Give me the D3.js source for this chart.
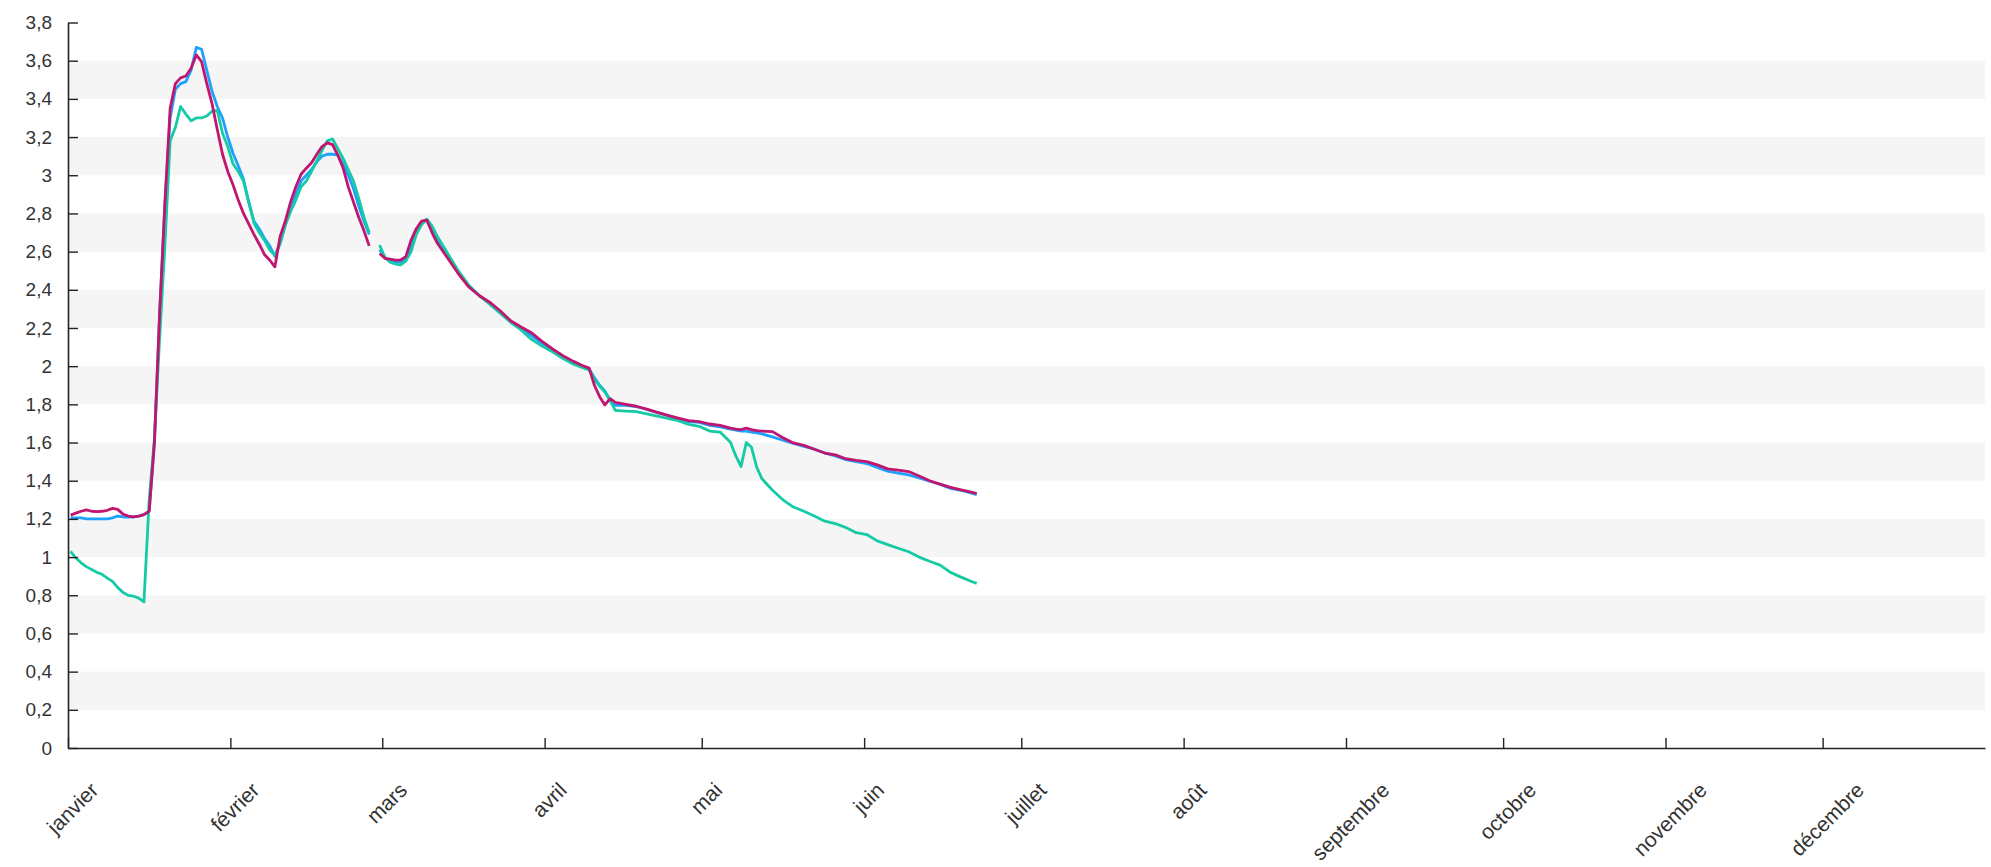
<!DOCTYPE html>
<html><head><meta charset="utf-8">
<script src="https://cdn.jsdelivr.net/npm/d3@7"></script>
<style>
html,body{margin:0;padding:0;background:#fff;}
svg{display:block;}
text{font-family:"Liberation Sans",Arial,sans-serif;}
</style>
</head><body>
<svg id="chart" width="1991" height="867"></svg>
<script>
// ---- data ----
const monthLabels = ["janvier","février","mars","avril","mai","juin","juillet","août","septembre","octobre","novembre","décembre"];
const yTicks = [0,0.2,0.4,0.6,0.8,1,1.2,1.4,1.6,1.8,2,2.2,2.4,2.6,2.8,3,3.2,3.4,3.6,3.8];
const yTickLabels = ["0","0,2","0,4","0,6","0,8","1","1,2","1,4","1,6","1,8","2","2,2","2,4","2,6","2,8","3","3,2","3,4","3,6","3,8"];
// day of year (0 = 1 janvier)
const days = [0,1,2,3,4,5,6,7,8,9,10,11,12,13,14,15,16,17,18,19,20,21,22,23,24,25,26,27,28,29,30,31,32,33,34,35,36,37,38,39,40,41,42,43,44,45,46,47,48,49,50,51,52,53,54,55,56,57,58,59,60,61,62,63,64,65,66,67,68,69,70,72,74,76,78,80,82,84,86,88,90,92,94,96,98,99,100,101,102,103,104,106,108,110,112,114,116,118,120,122,124,126,127,128,129,130,131,132,134,136,138,140,142,144,146,148,150,152,154,156,158,160,162,164,166,168,170,172,173];
const blueValues = [1.205,1.205,1.205,1.20,1.20,1.20,1.20,1.20,1.205,1.215,1.21,1.21,1.21,1.215,1.222,1.24,1.60,2.28,2.85,3.30,3.45,3.48,3.49,3.55,3.67,3.66,3.55,3.44,3.36,3.30,3.20,3.115,3.05,2.98,2.86,2.76,2.72,2.67,2.63,2.575,2.65,2.74,2.82,2.90,2.97,3.00,3.03,3.07,3.10,3.11,3.11,3.105,3.06,3.00,2.93,2.84,2.76,2.69,null,
2.61,2.57,2.55,2.545,2.545,2.56,2.63,2.70,2.75,2.768,2.72,2.66,2.58,2.495,2.42,2.37,2.33,2.285,2.235,2.198,2.16,2.12,2.083,2.048,2.017,1.995,1.985,1.94,1.90,1.87,1.82,1.795,1.795,1.788,1.773,1.757,1.742,1.725,1.71,1.705,1.69,1.682,1.67,1.665,1.66,1.66,1.655,1.65,1.645,1.63,1.612,1.595,1.58,1.565,1.545,1.53,1.51,1.50,1.49,1.47,1.45,1.44,1.43,1.415,1.397,1.38,1.36,1.35,1.335,1.327];
const tealValues = [1.03,0.995,0.97,0.95,0.935,0.92,0.91,0.89,0.873,0.84,0.815,0.80,0.795,0.785,0.765,1.30,1.62,2.15,2.63,3.18,3.25,3.36,3.32,3.285,3.30,3.30,3.31,3.335,3.34,3.22,3.15,3.06,3.02,2.97,2.86,2.75,2.70,2.66,2.61,2.58,2.64,2.74,2.81,2.87,2.94,2.97,3.02,3.075,3.13,3.18,3.19,3.14,3.09,3.03,2.97,2.88,2.78,2.70,null,
2.635,2.57,2.545,2.535,2.53,2.55,2.60,2.69,2.74,2.77,2.735,2.68,2.59,2.50,2.425,2.37,2.325,2.278,2.23,2.19,2.14,2.105,2.075,2.04,2.01,1.99,1.98,1.93,1.895,1.865,1.82,1.768,1.765,1.762,1.75,1.738,1.727,1.715,1.695,1.685,1.66,1.655,1.60,1.53,1.474,1.60,1.575,1.47,1.41,1.35,1.30,1.262,1.24,1.215,1.188,1.175,1.155,1.128,1.118,1.085,1.065,1.046,1.028,1.00,0.978,0.958,0.92,0.895,0.872,0.862];
const magentaValues = [1.22,1.23,1.24,1.247,1.24,1.238,1.24,1.245,1.255,1.25,1.225,1.215,1.21,1.215,1.222,1.24,1.60,2.28,2.85,3.35,3.48,3.51,3.52,3.56,3.63,3.595,3.48,3.375,3.24,3.11,3.02,2.95,2.87,2.80,2.745,2.69,2.64,2.585,2.556,2.52,2.68,2.76,2.86,2.94,3.005,3.037,3.065,3.11,3.15,3.17,3.16,3.106,3.04,2.94,2.86,2.78,2.71,2.63,null,
2.59,2.565,2.56,2.555,2.556,2.574,2.66,2.72,2.76,2.765,2.70,2.645,2.565,2.485,2.415,2.37,2.335,2.29,2.238,2.205,2.175,2.13,2.09,2.055,2.025,2.00,1.99,1.90,1.84,1.797,1.83,1.81,1.80,1.79,1.775,1.758,1.742,1.728,1.715,1.71,1.697,1.69,1.675,1.67,1.668,1.675,1.668,1.662,1.66,1.657,1.625,1.598,1.585,1.565,1.545,1.535,1.515,1.506,1.50,1.483,1.462,1.455,1.448,1.425,1.40,1.382,1.365,1.352,1.34,1.333];
const seriesColors = {blue:"#1ea0ff", teal:"#15cba6", magenta:"#c0166f"};

// ---- chart ----
const svg = d3.select("#chart");
const X0 = 68, X1 = 1985, Y0 = 748, Y1 = 22.5;
const start = new Date(Date.UTC(2024,0,1)), end = new Date(Date.UTC(2025,0,1));
const x = d3.scaleUtc().domain([start,end]).range([X0,X1]);
const y = d3.scaleLinear().domain([0,3.8]).range([Y0,Y1]);
const dayDate = d => new Date(start.getTime() + (d + 0.5) * 86400000);

svg.append("rect").attr("width",1991).attr("height",867).attr("fill","#fff");

// alternating bands
const bands = [];
for (let k = 1; k + 1 < yTicks.length; k += 2) bands.push([yTicks[k], yTicks[k+1]]);
svg.append("g").selectAll("rect").data(bands).join("rect")
  .attr("x", X0).attr("width", X1 - X0)
  .attr("y", d => y(d[1])).attr("height", d => y(d[0]) - y(d[1]))
  .attr("fill", "#f5f5f5");

// lines
const line = d3.line()
  .defined(d => d.v != null)
  .x(d => x(dayDate(d.day)))
  .y(d => y(d.v));
const series = [
  {name:"blue", values: blueValues},
  {name:"teal", values: tealValues},
  {name:"magenta", values: magentaValues}
];
svg.append("g").selectAll("path").data(series).join("path")
  .attr("d", s => line(days.map((d,i) => ({day:d, v:s.values[i]}))))
  .attr("fill","none")
  .attr("stroke", s => seriesColors[s.name])
  .attr("stroke-width", 2.8)
  .attr("stroke-linejoin","round");

// y axis
const yAxis = svg.append("g").attr("transform", `translate(${X0},0)`)
  .call(d3.axisLeft(y).tickValues(yTicks).tickSize(-10).tickSizeOuter(0).tickPadding(16)
    .tickFormat((d,i) => yTickLabels[i]));
yAxis.select(".domain").attr("stroke","#222").attr("stroke-width",1.6);
yAxis.selectAll(".tick line").attr("stroke","#222").attr("stroke-width",1.4);
yAxis.selectAll(".tick text").attr("font-size",19).attr("fill","#333")
  .attr("font-family",'"Liberation Sans",Arial,sans-serif');

// x axis
const months = d3.utcMonth.range(start, end);
const xAxis = svg.append("g").attr("transform", `translate(0,${Y0})`)
  .call(d3.axisBottom(x).tickValues(months).tickSize(-10).tickSizeOuter(0)
    .tickFormat((d,i) => monthLabels[i]));
xAxis.select(".domain").attr("stroke","#222").attr("stroke-width",1.6);
xAxis.selectAll(".tick line").attr("stroke","#222").attr("stroke-width",1.4);
xAxis.selectAll(".tick text").each(function(d,i){
  const t = d3.select(this)
    .attr("font-size",21).attr("fill","#333")
    .attr("font-family",'"Liberation Sans",Arial,sans-serif')
    .attr("text-anchor","middle").attr("dy",null).attr("y",null);
  const L = this.getComputedTextLength();
  const h = 15;
  const cy = 33 + (L + h) * 0.354;
  t.attr("transform", `translate(4,${cy}) rotate(-45)`).attr("dy","0.35em");
});
</script>
</body></html>
